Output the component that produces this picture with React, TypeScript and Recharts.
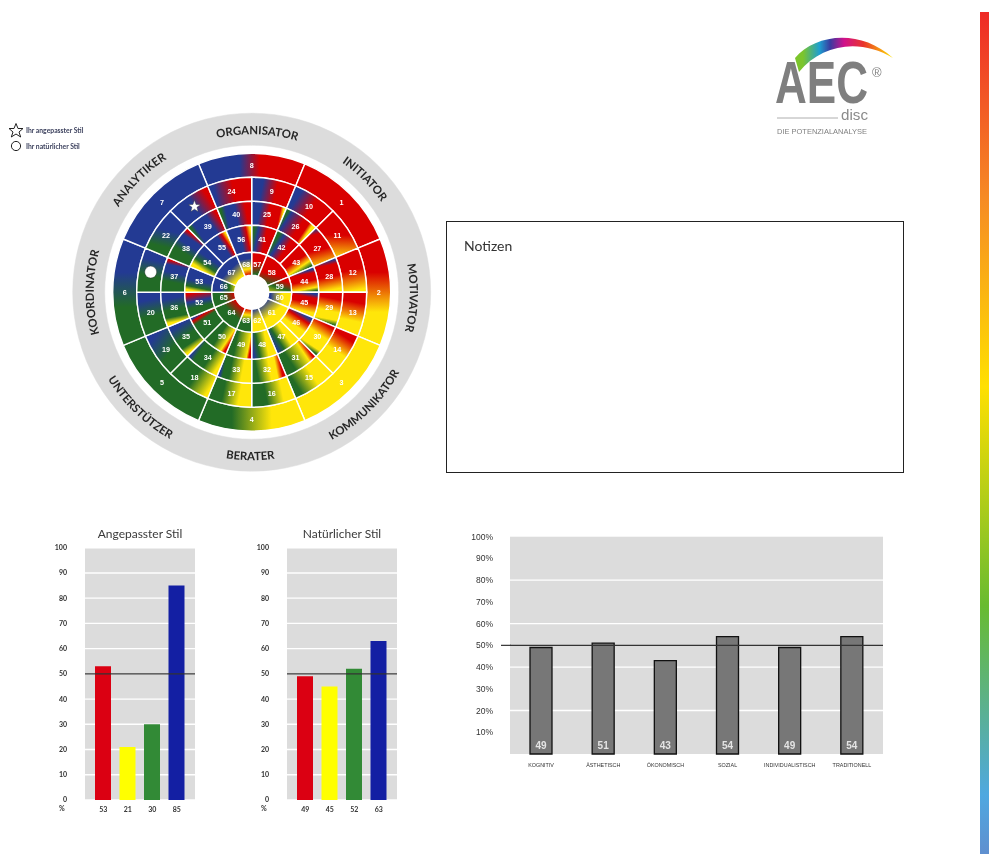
import React from 'react';
import { BarChart, Bar, Cell, XAxis, YAxis, CartesianGrid, ReferenceLine, LabelList, PieChart, Pie } from 'recharts';

// wheel: sector numbers, clockwise per ring
const ringOneIds = [8, 1, 2, 3, 4, 5, 6, 7];
const ringTwoIds = [9, 10, 11, 12, 13, 14, 15, 16, 17, 18, 19, 20, 21, 22, 23, 24];
const ringThreeIds = [25, 26, 27, 28, 29, 30, 31, 32, 33, 34, 35, 36, 37, 38, 39, 40];
const ringFourIds = [41, 42, 43, 44, 45, 46, 47, 48, 49, 50, 51, 52, 53, 54, 55, 56];
const ringFiveIds = [57, 58, 59, 60, 61, 62, 63, 64, 65, 66, 67, 68];
const ringFiveSpans = [1, 2, 1, 1, 2, 1, 1, 2, 1, 1, 2, 1];
const wheelRoles = ['ORGANISATOR', 'INITIATOR', 'MOTIVATOR', 'KOMMUNIKATOR', 'BERATER', 'UNTERSTÜTZER', 'KOORDINATOR', 'ANALYTIKER'];
const roleNudges = [2, 0, 2, 0, 0.5, -1, 0, 0];
const adaptedSector = 23;
const naturalSector = 21;

// sector shading: colour + stop in %, clockwise across the sector, "@n" tilts the direction
const ringOneShades = ['B38 R58', 'R0', 'R30 Y70', 'Y0', 'Y30 G70', 'G0', 'G35 B70', 'B0'];
const ringTwoShades = [
  'B25 R60', 'B15 R55', 'R50 Y105@-35', 'R45 Y95', 'R25 Y70', 'R15 Y55', 'Y40 G85', 'Y25 G65',
  'Y30 G70', 'Y5 G50', 'G40 B85@20', 'G40 B80', 'G40 B80', 'G25 B60@20', 'B50 R90', 'B10 R55',
];
const ringThreeShades = [
  'B25 R55 R88 Y98', 'G0 G5 B15 R60 R80 Y92 Y100', 'B0 R15 R55 Y100@-20', 'B0 R14 R50 Y92', 'R20 Y60 Y85 G100', 'R5 Y42 Y84 G98',
  'R3 Y20 G70', 'R6 Y22 Y42 G82', 'Y30 G68 G88 B98', 'Y8 G45 G82 B98', 'Y4 G24 G50 B90', 'Y6 G22 G45 B80',
  'G32 B62 B84 R98', 'G35 B62 B82 R97', 'G4 B16 B64 R94', 'G6 B20 B50 R82',
];
const ringFourShades = [
  'G6 B26 R62', 'G8 B30 R70', 'R45 Y78 G100', 'B3 R18 R50 Y85 G100', 'B4 R22 R45 Y88', 'B5 R26 Y66', 'Y32 G70 B100', 'Y30 G70 B96',
  'R5 Y16 G75', 'R4 Y20 G62', 'G70 R88 B100', 'G32 B60 R96', 'Y5 G22 B52 B90', 'Y10 G35 B70', 'B60 R82 Y100', 'B50 R80 Y100',
];
const ringFiveShades = [
  'R45 G85@-70', 'R55 G90@-60', 'R20 G55 Y100@-30', 'Y40 B85@-80', 'Y45 B100@-95', 'Y50 B90@-70',
  'G45 Y70 R95@-85', 'G50 R95@-90', 'G50 R95@-80', 'B35 G70 Y100@-80', 'B40 Y90@-90', 'B30 Y70 R95@-90',
];
const wheelColors: Record<string, string> = { R: '#d90000', Y: '#ffe60a', G: '#226b26', B: '#233a93' };

// bar panels
const adaptedScores = [53, 21, 30, 85];
const naturalScores = [49, 45, 52, 63];
const styleColors = ['#db0012', '#ffff00', '#328a36', '#131fa3'];
const percentTicks = [0, 10, 20, 30, 40, 50, 60, 70, 80, 90, 100];
const motiveNames = ['KOGNITIV', 'ÄSTHETISCH', 'ÖKONOMISCH', 'SOZIAL', 'INDIVIDUALISTISCH', 'TRADITIONELL'];
const motiveScores = [49, 51, 43, 54, 49, 54];
const motiveTicks = [10, 20, 30, 40, 50, 60, 70, 80, 90, 100];
const motiveGrid = [20, 40, 60, 80];

const CX = 184.7;
const CY = 184.2;
const calibri = '"Lato", "Open Sans", sans-serif';
const arial = '"Liberation Sans", Arial, sans-serif';

const toRad = (d: number) => (d * Math.PI) / 180;
// angle is clockwise from 12 o'clock
const polar = (r: number, angle: number) => ({ x: CX + r * Math.sin(toRad(angle)), y: CY - r * Math.cos(toRad(angle)) });

const gradientFor = (id: string, shade: string, from: number, span: number, ri: number, ro: number) => {
  const [stopText, tiltText] = shade.split('@');
  const stops = stopText.split(' ').map(s => ({ color: wheelColors[s[0]], at: Number(s.slice(1)) }));
  const tilt = toRad(Number(tiltText || 0));
  const mid = from + span / 2;
  const rm = (ri + ro) / 2;
  const c = polar(rm, mid);
  const a = toRad(mid);
  const dx = Math.cos(a) * Math.cos(tilt) + Math.sin(a) * Math.sin(tilt);
  const dy = Math.sin(a) * Math.cos(tilt) - Math.cos(a) * Math.sin(tilt);
  const half = Math.abs(Math.cos(tilt)) * (rm + 3) * Math.sin(toRad(span / 2)) + Math.abs(Math.sin(tilt)) * (ro - ri) * 0.55;
  return (
    <linearGradient key={id} id={id} gradientUnits="userSpaceOnUse" x1={c.x - dx * half} y1={c.y - dy * half} x2={c.x + dx * half} y2={c.y + dy * half}>
      {stops.map((s, i) => <stop key={i} offset={`${Math.min(s.at, 100)}%`} stopColor={s.color} />)}
    </linearGradient>
  );
};

const ringDefs = [
  { ids: ringOneIds, shades: ringOneShades, spans: ringOneIds.map(() => 2), first: -22.5, ri: 115, ro: 139 },
  { ids: ringTwoIds, shades: ringTwoShades, spans: ringTwoIds.map(() => 1), first: 0, ri: 91, ro: 115 },
  { ids: ringThreeIds, shades: ringThreeShades, spans: ringThreeIds.map(() => 1), first: 0, ri: 67, ro: 91 },
  { ids: ringFourIds, shades: ringFourShades, spans: ringFourIds.map(() => 1), first: 0, ri: 40, ro: 67 },
  { ids: ringFiveIds, shades: ringFiveShades, spans: ringFiveSpans, first: 0, ri: 17, ro: 40 },
];

const sectorLabel = (props: any) => {
  const r = (props.innerRadius + props.outerRadius) / 2;
  const angle = 90 - props.midAngle;
  const p = polar(r, angle);
  const id = props.payload?.id ?? props.id;
  if (id === naturalSector) return <circle cx={p.x} cy={p.y} r={6} fill="#fff" stroke="#222" strokeWidth={0.4} />;
  if (id === adaptedSector) {
    const pts = [0, 1, 2, 3, 4, 5, 6, 7, 8, 9].map(i => {
      const q = (i % 2 ? 2.6 : 6.2);
      const t = toRad(i * 36);
      return `${p.x + q * Math.sin(t)},${p.y - q * Math.cos(t)}`;
    }).join(' ');
    return <polygon points={pts} fill="#fff" stroke="#333" strokeWidth={0.4} />;
  }
  return (
    <text x={p.x} y={p.y} dy={2.6} textAnchor="middle" fontSize={7.2} fontWeight={700} fontFamily={arial} fill="#fff">{id}</text>
  );
};

const roleLabel = (props: any) => {
  const i = props.index;
  const angle = 90 - props.midAngle;
  const normal = ((angle % 360) + 360) % 360;
  const flipped = normal > 100 && normal < 260;
  const r = flipped ? 168 : 158;
  const mid = normal + roleNudges[i];
  const a = polar(r, mid + (flipped ? 22.5 : -22.5));
  const b = polar(r, mid + (flipped ? -22.5 : 22.5));
  const pathId = `role-${i}`;
  return (
    <g>
      <path id={pathId} d={`M${a.x},${a.y} A${r},${r} 0 0 ${flipped ? 0 : 1} ${b.x},${b.y}`} fill="none" />
      <text fontSize={11.4} fontWeight={700} fontFamily={calibri} fill="#262626">
        <textPath href={`#${pathId}`} startOffset="50%" textAnchor="middle">{wheelRoles[i]}</textPath>
      </text>
    </g>
  );
};

const Wheel = () => (
  <div style={{ position: 'absolute', left: 67, top: 108 }}>
    <PieChart width={370} height={370} margin={{ top: 0, right: 0, bottom: 0, left: 0 }}>
      <defs>
        {ringDefs.flatMap((ring, k) => {
          const total = ring.spans.reduce((a, b) => a + b, 0);
          let at = ring.first;
          return ring.ids.map((id, i) => {
            const span = (ring.spans[i] / total) * 360;
            const g = gradientFor(`sector-${k}-${id}`, ring.shades[i], at, span, ring.ri, ring.ro);
            at += span;
            return g;
          });
        })}
      </defs>
      <Pie data={[{ name: 'band', value: 1 }]} dataKey="value" cx={CX} cy={CY} innerRadius={147} outerRadius={179}
        startAngle={90} endAngle={-270} fill="#dcdcdc" stroke="#dcdcdc" strokeWidth={0.5} isAnimationActive={false} />
      <Pie data={wheelRoles.map(name => ({ name, value: 1 }))} dataKey="value" cx={CX} cy={CY} innerRadius={147} outerRadius={179}
        startAngle={112.5} endAngle={-247.5} fill="none" stroke="none" label={roleLabel} labelLine={false} isAnimationActive={false} />
      {ringDefs.map((ring, k) => (
        <Pie key={k} data={ring.ids.map((id, i) => ({ id, value: ring.spans[i] }))} dataKey="value" cx={CX} cy={CY} innerRadius={ring.ri} outerRadius={ring.ro}
          startAngle={90 - ring.first} endAngle={90 - ring.first - 360} stroke="#fff" strokeWidth={1.4} label={sectorLabel} labelLine={false} isAnimationActive={false}>
          {ring.ids.map(id => <Cell key={id} fill={`url(#sector-${k}-${id})`} />)}
        </Pie>
      ))}
    </PieChart>
  </div>
);

const StylePanel = ({ title, scores, left }: { title: string; scores: number[]; left: number }) => {
  const data = scores.map(score => ({ label: String(score), score }));
  return (
    <div style={{ position: 'absolute', left, top: 526, width: 170 }}>
      <div style={{ position: 'absolute', left: 55, width: 110, top: 0, textAlign: 'center', fontFamily: calibri, fontSize: 12, color: '#3a3a3a', whiteSpace: 'nowrap' }}>{title}</div>
      <div style={{ position: 'absolute', left: 29, top: 278, fontFamily: calibri, fontSize: 7, fontWeight: 700, color: '#333' }}>%</div>
      <div style={{ position: 'absolute', left: 0, top: 14 }}>
        <BarChart width={165} height={280} data={data} margin={{ top: 7.7, right: 0, bottom: 0, left: 0 }} barSize={16}>
          <CartesianGrid horizontal vertical={false} fill="#dcdcdc" stroke="#fff" strokeWidth={1.4} />
          <ReferenceLine y={50} stroke="#333" strokeWidth={1.2} />
          <XAxis dataKey="label" height={20} axisLine={false} tickLine={false} interval={0} padding={{ left: 6, right: 6 }} tickMargin={1}
            tick={{ fontSize: 7, fontWeight: 700, fontFamily: calibri, fill: '#333' }} />
          <YAxis width={55} domain={[0, 100]} ticks={percentTicks} interval={0} axisLine={false} tickLine={false} tickMargin={12}
            tick={{ fontSize: 7, fontWeight: 700, fontFamily: calibri, fill: '#333' }} />
          <Bar dataKey="score" isAnimationActive={false}>
            {data.map((d, i) => <Cell key={i} fill={styleColors[i]} />)}
          </Bar>
        </BarChart>
      </div>
    </div>
  );
};

const motiveTick = (props: any) => {
  const { x, y, payload } = props;
  return (
    <g>
      {payload.value === 50 && <line x1={x - 1} x2={x + 9} y1={y} y2={y} stroke="#333" strokeWidth={1.2} />}
      <text x={x - 9} y={y} dy={3} textAnchor="end" fontSize={8.5} fontFamily={arial} fill="#333">{`${payload.value}%`}</text>
    </g>
  );
};

const MotivePanel = () => {
  const data = motiveNames.map((name, i) => ({ name, score: motiveScores[i] }));
  return (
    <div style={{ position: 'absolute', left: 450, top: 530 }}>
      <BarChart width={433} height={246} data={data} margin={{ top: 6.7, right: 0, bottom: 0, left: 0 }} barSize={22}>
        <CartesianGrid horizontal vertical={false} horizontalValues={motiveGrid} fill="#dcdcdc" stroke="#fff" strokeWidth={1.4} />
        <ReferenceLine y={50} stroke="#333" strokeWidth={1.3} />
        <XAxis dataKey="name" height={22} axisLine={false} tickLine={false} interval={0} tickMargin={3}
          tick={{ fontSize: 5.4, fontFamily: arial, fill: '#333' }} />
        <YAxis width={60} domain={[0, 100]} ticks={motiveTicks} interval={0} axisLine={false} tickLine={false} tick={motiveTick} />
        <Bar dataKey="score" fill="#777" stroke="#111" strokeWidth={1.3} isAnimationActive={false}>
          <LabelList dataKey="score" position="insideBottom" fill="#e4e4e4" fontSize={10} fontWeight={700} fontFamily={arial} />
        </Bar>
      </BarChart>
    </div>
  );
};

const Logo = () => (
  <svg width={140} height={130} style={{ position: 'absolute', left: 765, top: 25 }} viewBox="765 25 140 130">
    <defs>
      <linearGradient id="logo-arc" x1="0" y1="0" x2="1" y2="0">
        <stop offset="0.08" stopColor="#7cc52c" />
        <stop offset="0.25" stopColor="#1e9fd0" />
        <stop offset="0.36" stopColor="#3a3aa0" />
        <stop offset="0.5" stopColor="#d0108c" />
        <stop offset="0.7" stopColor="#e9352a" />
        <stop offset="1" stopColor="#ffe600" />
      </linearGradient>
    </defs>
    <path d="M795,58 C815,34 860,28 893,58 C860,38 822,44 799,72 Z" fill="url(#logo-arc)" />
    <text x={775} y={103} fontSize={60} fontWeight={700} fontFamily={arial} fill="#7f7f7f" textLength={93} lengthAdjust="spacingAndGlyphs">AEC</text>
    <text x={872} y={77} fontSize={13} fontFamily={arial} fill="#7f7f7f">®</text>
    <line x1={777} x2={838} y1={118} y2={118} stroke="#9a9a9a" strokeWidth={0.8} />
    <text x={841} y={120} fontSize={14} fontFamily={arial} fill="#8a8a8a" textLength={27} lengthAdjust="spacingAndGlyphs">disc</text>
    <text x={777} y={134} fontSize={7.2} fontFamily={arial} fill="#808080" textLength={90} lengthAdjust="spacingAndGlyphs">DIE POTENZIALANALYSE</text>
  </svg>
);

const WheelLegend = () => (
  <>
    <svg width={20} height={32} style={{ position: 'absolute', left: 6, top: 122 }}>
      <polygon points="10,1.5 12,6.5 17,6.5 13,10 14.7,15 10,12 5.3,15 7,10 3,6.5 8,6.5" fill="#fff" stroke="#222" strokeWidth={1} />
      <circle cx={10} cy={24} r={4.6} fill="#fff" stroke="#222" strokeWidth={1} />
    </svg>
    <div style={{ position: 'absolute', left: 26, top: 126, fontFamily: calibri, fontSize: 6.8, fontWeight: 700, color: '#3a3f5c', whiteSpace: 'nowrap' }}>Ihr angepasster Stil</div>
    <div style={{ position: 'absolute', left: 26, top: 142, fontFamily: calibri, fontSize: 6.8, fontWeight: 700, color: '#3a3f5c', whiteSpace: 'nowrap' }}>Ihr natürlicher Stil</div>
  </>
);

export default function App() {
  return (
    <div style={{ position: 'absolute', left: 0, top: 0, width: 989, height: 854, overflow: 'hidden', background: '#fff', filter: 'blur(0.35px)' }}>
      <WheelLegend />
      <Wheel />
      <Logo />
      <div style={{ position: 'absolute', left: 446, top: 221, width: 456, height: 250, border: '1px solid #222', fontFamily: calibri, fontSize: 14, color: '#333', boxSizing: 'content-box' }}>
        <div style={{ position: 'absolute', left: 17, top: 15 }}>Notizen</div>
      </div>
      <StylePanel title="Angepasster Stil" scores={adaptedScores} left={30} />
      <StylePanel title="Natürlicher Stil" scores={naturalScores} left={232} />
      <MotivePanel />
      <div style={{ position: 'absolute', left: 980, top: 12, width: 9, height: 842, background: 'linear-gradient(to bottom, #ee2a26 0%, #f68a24 22%, #ffe000 44.5%, #68bb30 70.5%, #4fa8e0 93%, #5f8fcf 100%)' }} />
    </div>
  );
}
